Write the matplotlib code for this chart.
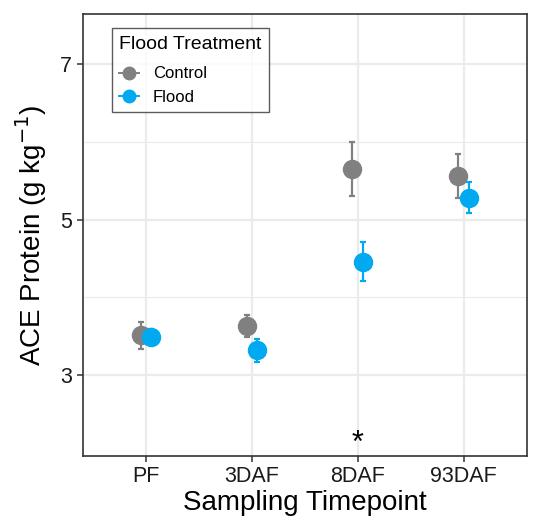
import matplotlib
matplotlib.use("Agg")
import matplotlib.pyplot as plt
from matplotlib.lines import Line2D
import numpy as np

plt.rcParams['font.family'] = ['Liberation Sans', 'DejaVu Sans']

# data
timepoints = ["PF", "3DAF", "8DAF", "93DAF"]
control_mean = [3.51, 3.63, 5.65, 5.56]
control_err = [0.175, 0.14, 0.345, 0.28]
flood_mean = [3.49, 3.32, 4.46, 5.28]
flood_err = [0.10, 0.145, 0.25, 0.20]
signif = ["", "", "*", ""]

grey = "#808080"
blue = "#00A9F0"

fig = plt.figure(figsize=(5.34, 5.31), dpi=100)
ax = fig.add_axes([0.1545, 0.1412, 0.8325, 0.8318])

x = np.arange(1, len(timepoints) + 1)
dodge = 0.05

ax.errorbar(x - dodge, control_mean, yerr=control_err, fmt="o", color=grey,
            ms=13, elinewidth=1.6, capsize=2.5, capthick=1.6, zorder=3)
ax.errorbar(x + dodge, flood_mean, yerr=flood_err, fmt="o", color=blue,
            ms=13, elinewidth=1.6, capsize=2.5, capthick=1.6, zorder=4)

for xi, s in zip(x, signif):
    if s:
        ax.text(xi, 2.12, s, ha="center", va="center", fontsize=22)

ax.set_xlim(0.4, 4.6)
ax.set_ylim(1.96, 7.64)
ax.set_xticks(x)
ax.set_xticklabels(timepoints)
ax.set_yticks([3, 5, 7])
ax.set_yticks([4, 6], minor=True)

ax.grid(which="major", color="#EBEBEB", linewidth=1.6, zorder=0)
ax.grid(which="minor", axis="y", color="#EBEBEB", linewidth=0.8, zorder=0)
ax.set_axisbelow(True)

for sp in ax.spines.values():
    sp.set_color("#333333")
    sp.set_linewidth(1.2)

ax.tick_params(axis="both", which="major", labelsize=15.5, color="#333333",
               length=4, width=1.1, labelcolor="#1a1a1a")
ax.tick_params(axis="y", which="minor", length=0)

ax.set_xlabel("Sampling Timepoint", fontsize=20, labelpad=2)
ax.set_ylabel("ACE Protein (g kg$^{-1}$)", fontsize=20, labelpad=8)

handles = [
    Line2D([0], [0], color=grey, marker="o", ms=9, lw=1.4),
    Line2D([0], [0], color=blue, marker="o", ms=9, lw=1.4),
]
leg = ax.legend(handles, ["Control", "Flood"], title="Flood Treatment",
                loc="upper left", bbox_to_anchor=(0.066, 0.969),
                borderaxespad=0, fontsize=12, title_fontsize=14,
                frameon=True, fancybox=False, handlelength=1.2,
                handletextpad=0.8, labelspacing=0.5, borderpad=0.45)
leg._legend_box.align = "left"
leg._legend_box.sep = 10
leg.get_frame().set_edgecolor("#333333")
leg.get_frame().set_linewidth(1.0)

fig.savefig("out.png", dpi=100)
